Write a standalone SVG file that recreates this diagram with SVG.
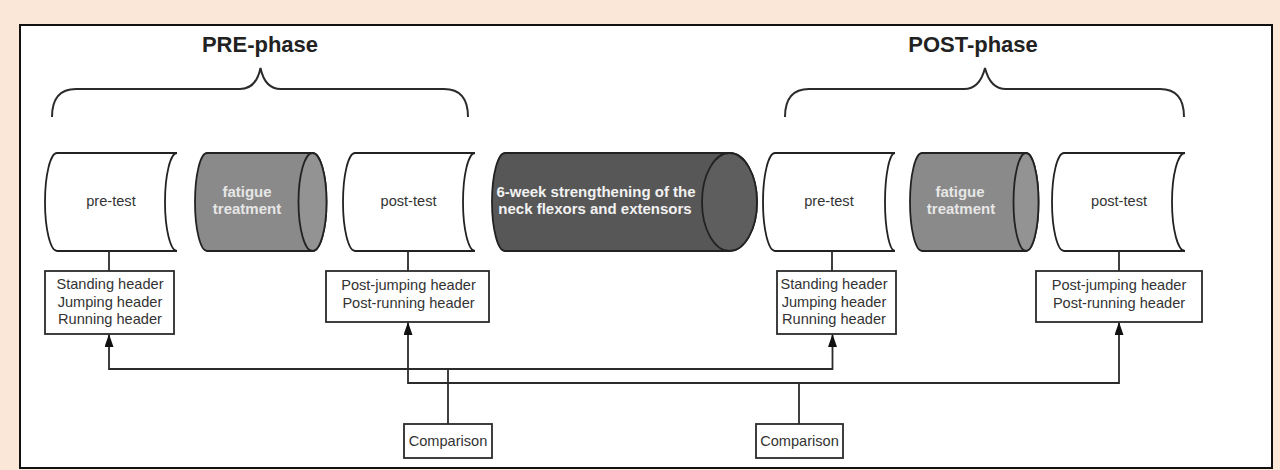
<svg xmlns="http://www.w3.org/2000/svg" width="1280" height="470" viewBox="0 0 1280 470">
<style>
.frame{fill:#ffffff;stroke:#111;stroke-width:2}
.brace{fill:none;stroke:#2b2b2b;stroke-width:2}
.title{font-family:"Liberation Sans",Arial,sans-serif;font-weight:bold;font-size:22px;fill:#222;text-anchor:middle}
.store{fill:#ffffff;stroke:#222;stroke-width:1.8}
.cylG{fill:#8a8a8a;stroke:#222;stroke-width:1.8}
.cylGface{fill:#939393;stroke:#222;stroke-width:1.8}
.cylD{fill:#575757;stroke:#222;stroke-width:1.8}
.cylDface{fill:#5e5e5e;stroke:#222;stroke-width:1.8}
.lbl{font-family:"Liberation Sans",Arial,sans-serif;font-size:14.6px;fill:#333;text-anchor:middle}
.lblB{font-family:"Liberation Sans",Arial,sans-serif;font-weight:bold;font-size:15px;fill:#e6e6e6;text-anchor:middle}
.lblW{font-family:"Liberation Sans",Arial,sans-serif;font-weight:bold;font-size:15px;fill:#f2f2f2;text-anchor:middle}
.box{fill:#ffffff;stroke:#2b2b2b;stroke-width:1.8}
.conn{fill:none;stroke:#2b2b2b;stroke-width:1.8}
.arrow{fill:none;stroke:#2b2b2b;stroke-width:1.8;marker-start:url(#ah);marker-end:url(#ah)}
</style>
<defs>
<marker id="ah" markerUnits="userSpaceOnUse" markerWidth="14" markerHeight="10" refX="12" refY="4.5" orient="auto-start-reverse">
<path d="M0,0 L13,4.5 L0,9 Z" fill="#111"/>
</marker>
</defs>
<rect x="0" y="0" width="1280" height="470" fill="#fbe7d8"/>
<rect class="frame" x="20" y="25" width="1252" height="443"/>

<g id="pre-phase">
<text class="title" x="260" y="52">PRE-phase</text>
<path class="brace" d="M52,117 C52,100 59,89 76,89 L240,89 C252,89 258,80 260.5,68 C263,80 269,89 281,89 L444,89 C461,89 468,100 468,117"/>
</g>
<g id="post-phase">
<text class="title" x="973" y="52">POST-phase</text>
<path class="brace" d="M785,117 C785,100 792,89 809,89 L964,89 C976,89 982,80 985,68 C988,80 994,89 1006,89 L1160,89 C1177,89 1184,100 1184,117"/>
</g>

<g id="pre-test-1">
<path class="store" d="M57,153 H177 A12,49 0 0 0 177,251 H57 A12,49 0 0 1 57,153 Z"/>
<text class="lbl" x="111" y="206">pre-test</text>
</g>
<g id="fatigue-1">
<path class="cylG" d="M207,153 H312.5 A14,49 0 0 1 312.5,251 H207 A12,49 0 0 1 207,153 Z"/>
<ellipse class="cylGface" cx="312.5" cy="202" rx="14" ry="49"/>
<text class="lblB" x="247" y="197">fatigue</text>
<text class="lblB" x="247" y="214">treatment</text>
</g>
<g id="post-test-1">
<path class="store" d="M355,153 H475 A12,49 0 0 0 475,251 H355 A12,49 0 0 1 355,153 Z"/>
<text class="lbl" x="408.5" y="206">post-test</text>
</g>
<g id="strengthening">
<path class="cylD" d="M505,153 H729.5 A27.5,49 0 0 1 729.5,251 H505 A13,49 0 0 1 505,153 Z"/>
<ellipse class="cylDface" cx="729.5" cy="202" rx="27.5" ry="49"/>
<text class="lblW" x="596" y="197">6-week strengthening of the</text>
<text class="lblW" x="595" y="214">neck flexors and extensors</text>
</g>
<g id="pre-test-2">
<path class="store" d="M775,153 H895 A10,49 0 0 0 895,251 H775 A12,49 0 0 1 775,153 Z"/>
<text class="lbl" x="829" y="206">pre-test</text>
</g>
<g id="fatigue-2">
<path class="cylG" d="M922,153 H1026 A12.5,49 0 0 1 1026,251 H922 A12,49 0 0 1 922,153 Z"/>
<ellipse class="cylGface" cx="1026" cy="202" rx="12.5" ry="49"/>
<text class="lblB" x="960" y="197">fatigue</text>
<text class="lblB" x="961" y="214">treatment</text>
</g>
<g id="post-test-2">
<path class="store" d="M1064,153 H1185 A13,49 0 0 0 1185,251 H1064 A12,49 0 0 1 1064,153 Z"/>
<text class="lbl" x="1119" y="206">post-test</text>
</g>

<g id="box-pre-1">
<rect class="box" x="45" y="271" width="129" height="63"/>
<text class="lbl" x="110" y="289">Standing header</text>
<text class="lbl" x="110" y="306.5">Jumping header</text>
<text class="lbl" x="110" y="324">Running header</text>
</g>
<g id="box-post-1">
<rect class="box" x="326" y="271" width="163" height="51"/>
<text class="lbl" x="408.5" y="290">Post-jumping header</text>
<text class="lbl" x="408.5" y="308">Post-running header</text>
</g>
<g id="box-pre-2">
<rect class="box" x="777" y="271" width="119" height="63"/>
<text class="lbl" x="834" y="289">Standing header</text>
<text class="lbl" x="834" y="306.5">Jumping header</text>
<text class="lbl" x="834" y="324">Running header</text>
</g>
<g id="box-post-2">
<rect class="box" x="1036" y="271" width="166" height="51"/>
<text class="lbl" x="1119" y="290">Post-jumping header</text>
<text class="lbl" x="1119" y="308">Post-running header</text>
</g>
<g id="comparison-1">
<rect class="box" x="404" y="424" width="88" height="34"/>
<text class="lbl" x="448" y="446">Comparison</text>
</g>
<g id="comparison-2">
<rect class="box" x="756" y="424" width="87" height="34"/>
<text class="lbl" x="799.5" y="446">Comparison</text>
</g>

<g id="connectors">
<path class="conn" d="M109,251 V271"/>
<path class="conn" d="M408,251 V271"/>
<path class="conn" d="M832,251 V271"/>
<path class="conn" d="M1119,251 V271"/>
<path class="arrow" d="M109,335 V369 H832.5 V335"/>
<path class="arrow" d="M408,323 V383 H1119 V323"/>
<path class="conn" d="M448,369 V424"/>
<path class="conn" d="M799,383 V424"/>
</g>
</svg>
